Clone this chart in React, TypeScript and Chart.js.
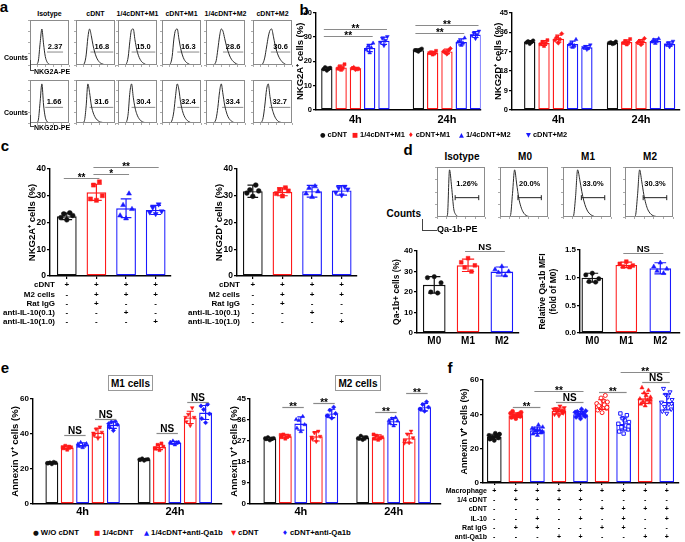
import React, { useEffect, useRef } from "react";
import { Chart, registerables } from "chart.js";
Chart.register(...registerables);

const FF = "'Liberation Sans', Arial, Helvetica, sans-serif";
const RED = "#ff1a1a";
const BLUE = "#1a1aff";
const BLACK = "#111111";
const LINEGRAY = "#8a8a8a";

// ---------------- Panel a : flow histograms ----------------
const aColumns = ["Isotype", "cDNT", "1/4cDNT+M1", "cDNT+M1", "1/4cDNT+M2", "cDNT+M2"];
const aNKG2AValues = ["2.37", "16.8", "15.0", "16.3", "28.6", "30.6"];
const aNKG2DValues = ["1.66", "31.6", "30.4", "32.4", "33.4", "32.7"];
const aNKG2ACurves = [
  [0, 0, 0, 0, 2, 14, 62, 100, 58, 24, 9, 3, 1, 0, 0, 0, 0, 0, 0, 0, 0, 0, 0, 0],
  [0, 0, 0, 0, 1, 5, 28, 76, 100, 82, 56, 36, 22, 13, 7, 4, 2, 1, 0, 0, 0, 0, 0, 0],
  [0, 0, 0, 0, 1, 4, 22, 66, 98, 100, 70, 44, 27, 16, 9, 5, 2, 1, 0, 0, 0, 0, 0, 0],
  [0, 0, 0, 0, 1, 4, 24, 72, 97, 100, 72, 46, 28, 16, 9, 5, 2, 1, 0, 0, 0, 0, 0, 0],
  [0, 0, 0, 0, 0, 2, 12, 44, 80, 100, 94, 74, 54, 38, 25, 16, 10, 6, 3, 1, 0, 0, 0, 0],
  [0, 0, 0, 0, 0, 1, 6, 22, 50, 78, 96, 100, 80, 56, 38, 25, 16, 10, 5, 2, 1, 0, 0, 0],
];
const aNKG2DCurves = [
  [0, 0, 0, 0, 1, 10, 56, 100, 46, 15, 4, 1, 0, 0, 0, 0, 0, 0, 0, 0, 0, 0, 0, 0],
  [0, 0, 0, 0, 1, 6, 44, 100, 78, 46, 28, 17, 10, 6, 3, 2, 1, 0, 0, 0, 0, 0, 0, 0],
  [0, 0, 0, 0, 0, 3, 24, 78, 100, 66, 40, 24, 14, 8, 4, 2, 1, 0, 0, 0, 0, 0, 0, 0],
  [0, 0, 0, 0, 0, 1, 8, 30, 70, 100, 84, 52, 32, 19, 11, 6, 3, 1, 0, 0, 0, 0, 0, 0],
  [0, 0, 0, 0, 0, 2, 12, 40, 80, 100, 74, 46, 28, 16, 9, 5, 2, 1, 0, 0, 0, 0, 0, 0],
  [0, 0, 0, 0, 0, 2, 14, 46, 86, 100, 68, 42, 26, 15, 8, 4, 2, 1, 0, 0, 0, 0, 0, 0],
];
const aNKG2AGates = [[10, 19.5], [8.5, 22], [8, 22], [9, 22], [10, 22], [10.5, 22]];
const aNKG2DGates = [[9, 19.5], [8, 22], [8, 22], [9, 22], [9.5, 22], [9.5, 22]];

// ---------------- Panel d : Qa-1b histograms ----------------
const dColumns = ["Isotype", "M0", "M1", "M2"];
const dValues = ["1.26%", "20.0%", "33.0%", "30.3%"];
const dCurves = [
  [0, 0, 0, 0, 0, 4, 100, 64, 18, 5, 1, 0, 0, 0, 0, 0, 0, 0, 0, 0, 0, 0, 0, 0],
  [0, 0, 0, 0, 0, 3, 50, 100, 70, 40, 22, 11, 5, 2, 1, 0, 0, 0, 0, 0, 0, 0, 0, 0],
  [0, 0, 0, 0, 0, 2, 42, 100, 80, 54, 34, 20, 11, 6, 3, 1, 0, 0, 0, 0, 0, 0, 0, 0],
  [0, 0, 0, 0, 0, 3, 46, 100, 76, 48, 28, 15, 8, 4, 2, 1, 0, 0, 0, 0, 0, 0, 0, 0],
];
const dGates = [[8.7, 20], [8.6, 19.8], [8.8, 20], [8.7, 20]];

// ---------------- Panel b ----------------
const bTimes = ["4h", "24h"];
const bSeries = ["cDNT", "1/4cDNT+M1", "cDNT+M1", "1/4cDNT+M2", "cDNT+M2"];
const bNKG2AMeans = [17.0, 17.5, 17.1, 25.5, 28.5, 24.6, 23.5, 24.1, 28.0, 31.0];
const bNKG2ASD = [0.6, 1.0, 0.4, 1.5, 1.5, 0.5, 0.6, 0.9, 1.2, 1.2];
const bNKG2APoints = [
  [16.2, 16.8, 17.3, 17.6, 16.9], [16.5, 17.0, 18.8, 17.8, 17.4], [16.6, 17.2, 16.9, 17.5, 16.8],
  [23.5, 24.8, 27.5, 26.2, 25.6], [26.5, 27.8, 30.2, 29.5, 28.6],
  [24.0, 24.6, 25.2, 24.4, 24.8], [22.8, 23.4, 24.3, 23.7, 23.2], [23.0, 24.1, 25.3, 23.8, 24.4],
  [26.6, 27.9, 29.6, 28.3, 27.6], [29.4, 30.6, 32.4, 31.6, 31.0],
];
const bNKG2AStats = [
  { from: 0, to: 3, y: 30.5, text: "**" }, { from: 0, to: 4, y: 33.5, text: "**" },
  { from: 5, to: 8, y: 31.8, text: "**" }, { from: 5, to: 9, y: 34.8, text: "**" },
];
const bNKG2DMeans = [31.5, 31.0, 33.0, 30.5, 29.0, 31.0, 31.5, 31.5, 32.0, 30.5];
const bNKG2DSD = [0.6, 1.1, 1.6, 1.4, 0.8, 0.5, 1.0, 1.1, 0.9, 1.0];
const bNKG2DPoints = [
  [30.6, 31.2, 32.1, 31.8, 31.4], [29.6, 30.4, 32.3, 31.5, 30.9], [31.0, 32.4, 35.3, 33.6, 32.7],
  [29.0, 30.2, 32.6, 30.8, 29.8], [28.0, 28.9, 30.1, 29.4, 28.6],
  [30.5, 31.0, 31.6, 31.3, 30.8], [30.3, 31.0, 32.8, 31.8, 31.4], [30.2, 31.2, 33.1, 31.8, 31.5],
  [30.8, 31.5, 33.0, 32.4, 31.9], [29.2, 30.1, 31.8, 31.0, 30.4],
];

// ---------------- Panel c ----------------
const cRowNames = ["cDNT", "M2 cells", "Rat IgG", "anti-IL-10(0.1)", "anti-IL-10(1.0)"];
const cTable = [
  ["+", "-", "-", "-", "-"],
  ["+", "+", "+", "-", "-"],
  ["+", "+", "-", "+", "-"],
  ["+", "+", "-", "-", "+"],
];
const cNKG2AMeans = [22.3, 31.3, 25.3, 24.7];
const cNKG2ASD = [1.2, 3.0, 3.5, 1.7];
const cNKG2APoints = [
  [21.0, 21.8, 22.6, 23.2, 23.6], [28.3, 28.8, 30.0, 34.0, 35.2], [21.5, 22.6, 25.0, 26.5, 30.8], [23.2, 23.8, 24.2, 25.6, 26.8],
];
const cNKG2AStats = [
  { from: 0, to: 1, y: 36.6, text: "**" }, { from: 1, to: 2, y: 38.1, text: "*" }, { from: 1, to: 3, y: 40.7, text: "**" },
];
const cNKG2DMeans = [31.7, 31.5, 31.7, 32.0];
const cNKG2DSD = [2.3, 1.5, 2.2, 1.8];
const cNKG2DPoints = [
  [29.8, 31.0, 31.8, 32.2, 34.0], [29.9, 30.8, 31.8, 32.3, 33.0], [29.5, 30.8, 31.6, 32.9, 33.5], [30.2, 31.2, 32.4, 33.0, 33.4],
];

// ---------------- Panel d bars ----------------
const dGroups = ["M0", "M1", "M2"];
const dQaMeans = [23.5, 33.0, 30.0];
const dQaSD = [4.0, 3.0, 2.2];
const dQaPoints = [[27.5, 27.0, 24.5, 20.0, 19.5], [36.5, 34.5, 33.0, 32.0, 30.0], [32.5, 31.0, 30.0, 29.5, 28.0]];
const dQaStats = [{ from: 1, to: 2, y: 40, text: "NS" }];
const dMfiMeans = [1.0, 1.23, 1.17];
const dMfiSD = [0.08, 0.05, 0.1];
const dMfiPoints = [[1.08, 1.05, 0.98, 0.93, 0.92], [1.29, 1.25, 1.22, 1.2, 1.19], [1.27, 1.2, 1.16, 1.12, 1.08]];
const dMfiStats = [{ from: 1, to: 2, y: 1.45, text: "NS" }];

// ---------------- Panel e ----------------
const eTimes = ["4h", "24h"];
const eSeries = ["W/O cDNT", "1/4cDNT", "1/4cDNT+anti-Qa1b", "cDNT", "cDNT+anti-Qa1b"];
const eM1Means = [23.5, 32.3, 33.8, 40.8, 45.2, 25.4, 32.6, 35.0, 49.5, 52.3];
const eM1SD = [0.6, 1.0, 1.2, 2.6, 2.0, 0.5, 1.5, 0.8, 3.5, 4.0];
const eM1Points = [
  [22.8, 23.2, 23.5, 23.7, 24.0, 23.4], [31.0, 31.8, 32.4, 33.3, 32.8, 32.5], [32.2, 33.0, 34.5, 35.2, 33.6, 34.3],
  [37.5, 39.2, 41.0, 42.6, 44.0, 40.5], [42.0, 43.8, 45.5, 46.8, 47.2, 45.9],
  [24.8, 25.2, 25.6, 26.0, 25.4, 25.4], [30.8, 31.6, 32.8, 33.8, 34.6, 32.0], [33.8, 34.6, 35.3, 36.0, 35.0, 35.3],
  [44.8, 47.0, 49.5, 51.2, 55.0, 49.5], [46.5, 48.8, 51.5, 54.0, 57.0, 56.0],
];
const eM1Stats = [
  { from: 1, to: 2, y: 39.4, text: "NS" }, { from: 3, to: 4, y: 48.6, text: "NS" },
  { from: 6, to: 7, y: 40.4, text: "NS" }, { from: 8, to: 9, y: 58.5, text: "NS" },
];
const eM2Means = [28.0, 29.0, 34.5, 29.0, 38.8, 28.3, 28.6, 35.5, 28.2, 41.5];
const eM2SD = [0.6, 0.8, 2.8, 2.0, 1.8, 0.8, 1.0, 1.5, 2.0, 1.6];
const eM2Points = [
  [27.3, 27.8, 28.2, 28.6, 27.9, 28.2], [28.0, 28.6, 29.2, 29.8, 28.8, 29.6], [31.0, 32.5, 34.0, 35.8, 37.5, 36.2],
  [26.8, 27.8, 29.0, 30.5, 31.2, 28.7], [36.8, 37.8, 38.8, 40.2, 41.5, 37.7],
  [27.5, 28.0, 28.6, 29.2, 28.3, 28.2], [27.5, 28.0, 28.6, 29.3, 28.4, 29.8], [33.5, 34.6, 35.6, 36.5, 37.0, 35.8],
  [26.2, 27.3, 28.4, 30.0, 31.2, 26.1], [39.8, 40.6, 41.5, 42.6, 43.8, 40.7],
];
const eM2Stats = [
  { from: 1, to: 2, y: 41.5, text: "**" }, { from: 3, to: 4, y: 43.2, text: "**" },
  { from: 6, to: 7, y: 39.5, text: "**" }, { from: 8, to: 9, y: 47.5, text: "**" },
];

// ---------------- Panel f ----------------
const fRowNames = ["Macrophage", "1/4 cDNT", "cDNT", "IL-10", "Rat IgG", "anti-Qa1b"];
const fTable = [
  ["+", "-", "-", "-", "-", "-"],
  ["+", "+", "-", "-", "+", "-"],
  ["+", "+", "-", "+", "+", "-"],
  ["+", "+", "-", "-", "-", "+"],
  ["+", "+", "-", "+", "-", "+"],
  ["+", "-", "+", "-", "+", "-"],
  ["+", "-", "+", "+", "+", "-"],
  ["+", "-", "+", "-", "-", "+"],
  ["+", "-", "+", "+", "-", "+"],
];
const fMeans = [27.0, 39.5, 30.7, 42.0, 40.1, 45.7, 34.4, 49.3, 47.2];
const fSD = [1.4, 1.3, 1.8, 1.7, 1.6, 2.8, 3.6, 2.9, 4.6];
const fPoints = [
  [24.8, 25.5, 26.2, 26.8, 27.3, 27.8, 28.5, 29.0, 26.5, 27.1, 25.9, 28.2],
  [37.5, 38.2, 38.8, 39.4, 40.0, 40.6, 41.2, 39.0, 38.5, 40.3, 41.8, 39.7],
  [27.8, 28.6, 29.5, 30.2, 31.0, 31.8, 32.6, 33.8, 30.5, 29.2, 31.4, 30.0],
  [39.2, 40.0, 40.8, 41.5, 42.2, 43.0, 43.8, 44.8, 42.5, 41.0, 43.3, 42.0],
  [37.5, 38.4, 39.2, 40.0, 40.6, 41.2, 42.0, 43.0, 39.6, 40.4, 41.6, 38.8],
  [41.0, 42.5, 43.5, 44.5, 45.5, 46.3, 47.2, 48.0, 49.5, 51.0, 45.0, 44.0],
  [28.8, 30.0, 31.2, 32.5, 33.5, 34.5, 35.5, 36.5, 37.8, 39.5, 40.5, 33.0],
  [45.0, 46.0, 46.8, 47.5, 48.3, 49.0, 50.0, 51.0, 52.5, 54.0, 55.5, 48.5],
  [40.5, 41.8, 43.0, 44.5, 45.8, 47.0, 48.5, 50.0, 51.5, 53.0, 55.0, 46.2],
];
const fStats = [
  { from: 1, to: 2, y: 44, text: "**" }, { from: 2, to: 4, y: 53.5, text: "**" }, { from: 3, to: 4, y: 47, text: "NS" },
  { from: 5, to: 6, y: 53, text: "**" }, { from: 6, to: 8, y: 64.5, text: "**" }, { from: 7, to: 8, y: 58.7, text: "NS" },
];

// ---------------- helpers ----------------
const JITTER = [0, -0.3, 0.3, -0.15, 0.15, -0.36, 0.36, 0.07, -0.07, 0.22, -0.22, 0.33];

const framePlugin = {
  id: "frame",
  afterDraw(chart: any, _a: any, o: any) {
    if (!o || !o.color) return;
    const { ctx, chartArea: c } = chart;
    ctx.save();
    ctx.strokeStyle = o.color;
    ctx.lineWidth = 1;
    ctx.strokeRect(Math.round(c.left) + 0.5, Math.round(c.top) + 0.5, Math.round(c.right - c.left) - 1, Math.round(c.bottom - c.top) - 1);
    ctx.restore();
  },
};

const gateTextPlugin = {
  id: "gateText",
  afterDraw(chart: any, _a: any, o: any) {
    if (!o || !o.text) return;
    const { ctx, scales } = chart;
    ctx.save();
    ctx.font = `bold ${o.size}px ${FF}`;
    ctx.fillStyle = "#000";
    ctx.textAlign = "center";
    ctx.textBaseline = o.baseline;
    ctx.fillText(o.text, scales.x.getPixelForValue(o.x), scales.y.getPixelForValue(o.y));
    ctx.restore();
  },
};

const errPlugin = {
  id: "errBars",
  afterDatasetsDraw(chart: any, _a: any, o: any) {
    if (!o || !o.values) return;
    const { ctx, scales } = chart;
    const meta = chart.getDatasetMeta(0);
    ctx.save();
    ctx.lineWidth = 1.2;
    o.values.forEach((v: number, i: number) => {
      const el = meta.data[i];
      if (!el) return;
      const cx = el.x;
      const hw = el.width * 0.27;
      const yt = scales.y.getPixelForValue(v + o.sds[i]);
      const yb = scales.y.getPixelForValue(v - o.sds[i]);
      ctx.strokeStyle = o.colors[i];
      ctx.beginPath();
      ctx.moveTo(cx, yt); ctx.lineTo(cx, yb);
      ctx.moveTo(cx - hw, yt); ctx.lineTo(cx + hw, yt);
      ctx.moveTo(cx - hw, yb); ctx.lineTo(cx + hw, yb);
      ctx.stroke();
    });
    ctx.restore();
  },
};

// brackets: "from"/"to" are bar indices
const bracketPlugin = {
  id: "brackets",
  afterDatasetsDraw(chart: any, _a: any, o: any) {
    if (!o || !o.items) return;
    const { ctx, scales } = chart;
    const meta = chart.getDatasetMeta(0);
    ctx.save();
    o.items.forEach((b: any) => {
      const x1 = meta.data[b.from].x;
      const x2 = meta.data[b.to].x;
      const yy = Math.round(scales.y.getPixelForValue(b.y)) + 0.5;
      ctx.strokeStyle = LINEGRAY;
      ctx.lineWidth = 1.2;
      ctx.beginPath(); ctx.moveTo(x1 - 3, yy); ctx.lineTo(x2 + 3, yy); ctx.stroke();
      ctx.fillStyle = "#000";
      ctx.font = `bold ${o.size}px ${FF}`;
      ctx.textAlign = "center";
      ctx.textBaseline = "alphabetic";
      const star = b.text.indexOf("*") >= 0;
      ctx.fillText(b.text, (x1 + x2) / 2, yy - 1.5 + (star ? o.size * 0.42 : 0));
    });
    ctx.restore();
  },
};

const rowNamesPlugin = {
  id: "rowNames",
  afterDraw(chart: any, _a: any, o: any) {
    if (!o || !o.names) return;
    const { ctx, scales } = chart;
    const xs = scales.x;
    const lh = o.size * o.lh;
    const y0 = xs.top + o.tickLen + o.pad + lh / 2;
    ctx.save();
    ctx.font = `bold ${o.size}px ${FF}`;
    ctx.fillStyle = "#000";
    ctx.textAlign = "right";
    ctx.textBaseline = "middle";
    o.names.forEach((n: string, i: number) => ctx.fillText(n, o.right, y0 + i * lh));
    ctx.restore();
  },
};

// vertical axis title drawn at a fixed x, centred on the y axis
const yTitlePlugin = {
  id: "yTitle",
  afterDraw(chart: any, _a: any, o: any) {
    if (!o || !o.text) return;
    const { ctx, chartArea } = chart;
    const lines = Array.isArray(o.text) ? o.text : [o.text];
    const cy = (chartArea.top + chartArea.bottom) / 2;
    ctx.save();
    ctx.translate(o.x, cy);
    ctx.rotate(-Math.PI / 2);
    ctx.font = `bold ${o.size}px ${FF}`;
    ctx.fillStyle = "#000";
    ctx.textAlign = "center";
    ctx.textBaseline = "middle";
    lines.forEach((l: string, i: number) => ctx.fillText(l, 0, i * o.size * 1.2));
    ctx.restore();
  },
};

function markerStyle(m: string) {
  if (m === "square") return "rect";
  if (m === "diamond") return "rectRot";
  if (m === "up" || m === "down") return "triangle";
  return "circle";
}

// ---------------- Histogram ----------------
function Hist(p: any) {
  const ref = useRef<HTMLCanvasElement>(null);
  const left = p.x - 3;
  const top = p.y - 1;
  const width = p.w + 4;
  const height = p.h + 4;
  useEffect(() => {
    const n = p.curve.length;
    const chart = new Chart(ref.current as HTMLCanvasElement, {
      type: "line",
      data: {
        datasets: [
          {
            data: p.curve.map((v: number, i: number) => ({ x: i, y: v })),
            borderColor: "#2a2a2a", borderWidth: 1, pointRadius: 0, cubicInterpolationMode: "monotone", fill: false,
          },
          {
            data: [{ x: p.gate[0], y: p.gateY }, { x: p.gate[1], y: p.gateY }],
            borderColor: p.gateColor, borderWidth: 1, pointRadius: p.gateTicks ? 2.5 : 0,
            pointStyle: "line", pointRotation: 90, pointBorderColor: p.gateColor, pointBorderWidth: 1,
          },
        ],
      } as any,
      options: {
        animation: false, responsive: false, events: [],
        layout: { padding: { top: 1, right: 1, left: 0, bottom: 0 } },
        plugins: {
          legend: { display: false }, tooltip: { enabled: false },
          frame: { color: "#8c8c8c" },
          gateText: { text: p.label, x: p.labelX, y: p.labelY, size: p.labelSize, baseline: p.labelBaseline },
        } as any,
        scales: {
          x: {
            type: "linear", min: 0, max: n - 1, ticks: { display: false, stepSize: 4.6 },
            grid: { drawOnChartArea: false, drawTicks: true, tickLength: 2, color: "#aaa" }, border: { display: false },
            afterFit: (s: any) => { s.height = 3; },
          },
          y: {
            type: "linear", min: 0, max: p.yMax, ticks: { display: false, stepSize: p.yMax / 4 },
            grid: { drawOnChartArea: false, drawTicks: true, tickLength: 2, color: "#aaa" }, border: { display: false },
            afterFit: (s: any) => { s.width = 3; },
          },
        } as any,
      },
      plugins: [framePlugin, gateTextPlugin],
    });
    return () => chart.destroy();
  }, []);
  return <canvas ref={ref} width={width} height={height} style={{ position: "absolute", left, top, width, height }} />;
}

// ---------------- Bar panel ----------------
function BarPanel({ g, d }: any) {
  const ref = useRef<HTMLCanvasElement>(null);
  const left = Math.floor(g.axisX - g.leftSpace);
  const top = Math.floor(g.yTopPx - g.padTop);
  const leftSpace = g.axisX - left;
  const padTop = g.yTopPx - top;
  const width = Math.round(g.axisEndX - left + g.padRight);
  const padRight = width - (g.axisEndX - left);
  const height = Math.round(g.y0Px - top + g.bottomSpace);
  const bottomSpace = height - (g.y0Px - top);
  useEffect(() => {
    // slot positions: bars in groups, with a layout gap (in slots) between groups
    const perGroup = g.perGroup || d.values.length;
    const slots = d.values.map((_: number, i: number) => (i % perGroup) + Math.floor(i / perGroup) * (perGroup + (g.groupGap || 0)));
    const groupCenters = d.xTickLabels.map((_: any, k: number) =>
      g.perGroup ? k * (perGroup + (g.groupGap || 0)) + (perGroup - 1) / 2 : slots[k]);
    const xMin = (g.axisX - g.slot0Px) / g.slotPx;
    const xMax = (g.axisEndX - g.slot0Px) / g.slotPx;
    const frac = g.barW / g.slotPx;
    const datasets: any[] = [
      {
        type: "bar",
        data: slots.map((s: number, i: number) => ({ x: s, y: d.values[i] })),
        backgroundColor: "#ffffff",
        borderColor: d.colors,
        borderWidth: 1.4,
        borderSkipped: false,
        barPercentage: frac,
        categoryPercentage: 1,
        order: 5,
      },
    ];
    d.points.forEach((pts: number[], i: number) => {
      const open = d.open ? d.open[i] : false;
      datasets.push({
        type: "scatter",
        data: pts.map((v: number, j: number) => ({ x: slots[i] + JITTER[j % JITTER.length] * frac, y: v })),
        pointStyle: markerStyle(d.markers[i]),
        pointRotation: d.markers[i] === "down" ? 180 : 0,
        pointRadius: d.markers[i] === "circle" ? g.ptR : g.ptR * 1.2,
        pointBackgroundColor: open ? "#ffffff" : d.colors[i],
        pointBorderColor: d.colors[i],
        pointBorderWidth: open ? 1 : 0.5,
        clip: false,
        order: 1,
      });
    });
    const chart = new Chart(ref.current as HTMLCanvasElement, {
      type: "bar",
      data: { datasets } as any,
      options: {
        animation: false, responsive: false, maintainAspectRatio: false, events: [],
        layout: { padding: { top: padTop, right: padRight, left: 0, bottom: 0 } },
        plugins: {
          legend: { display: false }, tooltip: { enabled: false },
          errBars: { values: d.values, sds: d.sds, colors: d.colors },
          brackets: { items: d.brackets, size: g.bracketSize || 9 },
          yTitle: { text: d.yTitle, x: g.titleX - left, size: g.titleSize },
          rowNames: d.rowNames
            ? { names: d.rowNames, size: g.xLabelSize, lh: g.xLineHeight, tickLen: g.xTickLen, pad: g.xTickPad, right: g.rowNameRight - left }
            : {},
        } as any,
        scales: {
          x: {
            type: "linear", min: xMin, max: xMax, offset: false,
            afterBuildTicks: (s: any) => { s.ticks = groupCenters.map((v: number) => ({ value: v })); },
            ticks: {
              autoSkip: false, maxRotation: 0, minRotation: 0, padding: g.xTickPad, color: "#000",
              font: { family: FF, size: g.xLabelSize, weight: "bold", lineHeight: g.xLineHeight || 1.2 },
              callback: (_v: any, i: number) => d.xTickLabels[i],
            },
            grid: { offset: false, drawOnChartArea: false, drawTicks: g.xTickLen > 0, tickLength: g.xTickLen, color: "#000", lineWidth: 1.2 },
            border: { display: true, color: "#000", width: 1.4 },
            afterFit: (s: any) => { s.height = bottomSpace; },
          },
          y: {
            type: "linear", min: 0, max: d.yMax,
            ticks: {
              stepSize: d.yStep, padding: 1, color: "#000",
              font: { family: FF, size: g.tickSize, weight: "bold" },
              callback: (v: any) => (d.yDecimals ? Number(v).toFixed(d.yDecimals) : String(Math.round(v))),
            },
            grid: { drawOnChartArea: false, drawTicks: true, tickLength: 3, color: "#000", lineWidth: 1.2 },
            border: { display: true, color: "#000", width: 1.4 },
            title: { display: false },
            afterFit: (s: any) => { s.width = leftSpace; },
          },
        } as any,
      },
      plugins: [errPlugin, bracketPlugin, rowNamesPlugin, yTitlePlugin],
    });
    return () => chart.destroy();
  }, []);
  return <canvas ref={ref} width={width} height={height} style={{ position: "absolute", left, top, width, height }} />;
}

function T({ x, y, s, children, anchor = "middle", w = 700, color = "#000" }: any) {
  const tx = anchor === "start" ? "0" : anchor === "end" ? "-100%" : "-50%";
  return (
    <div style={{ position: "absolute", left: x, top: y, transform: `translate(${tx},-50%)`, font: `${w} ${s}px ${FF}`, whiteSpace: "nowrap", color, lineHeight: 1 }}>
      {children}
    </div>
  );
}

function LBracket({ x, y1, y2, x2 }: any) {
  return <div style={{ position: "absolute", left: x, top: y1, width: x2 - x, height: y2 - y1, borderLeft: "1px solid #444", borderBottom: "1px solid #444" }} />;
}

const MARK: any = { circle: "\u25CF", square: "\u25A0", diamond: "\u2666", up: "\u25B2", down: "\u25BC" };

function Legend({ items, y, size }: any) {
  return (
    <>
      {items.map((it: any, i: number) => (
        <div key={i} style={{ position: "absolute", left: it.x, top: y, transform: "translateY(-50%)", whiteSpace: "nowrap", font: `700 ${size}px ${FF}`, lineHeight: 1 }}>
          <span style={{ color: it.color, fontSize: size * 0.85, fontFamily: "'DejaVu Sans', sans-serif" }}>{MARK[it.marker]}</span>
          <span style={{ marginLeft: 2 }}>{it.label}</span>
        </div>
      ))}
    </>
  );
}

// ---------------- layout ----------------
const seriesColors5 = [BLACK, RED, RED, BLUE, BLUE];
const bMarkers = ["circle", "square", "diamond", "up", "down"];
const eColors = [BLACK, RED, BLUE, RED, BLUE];
const eMarkers = ["circle", "square", "up", "down", "diamond"];
const rep2 = (arr: any[]) => [...arr, ...arr];

export default function App() {
  const aBoxX = [30, 76, 118, 162, 206, 253];
  const dBoxX = [435, 498, 561, 623];

  const bGeomBase = { yTopPx: 12.7, y0Px: 110, slotPx: 14.5, barW: 11.5, perGroup: 5, padTop: 6, bottomSpace: 18, padRight: 2, titleSize: 9.5, tickSize: 7.5, xLabelSize: 11, xTickLen: 0, xTickPad: 3, ptR: 1.8, bracketSize: 10 };
  const b1 = { ...bGeomBase, axisX: 316, axisEndX: 483, slot0Px: 327, groupGap: 1.41, leftSpace: 20, titleX: 300 };
  const b2 = { ...bGeomBase, axisX: 512, axisEndX: 682, slot0Px: 530, groupGap: 0.79, leftSpace: 22, titleX: 498 };
  const bData = (means: number[], sds: number[], pts: number[][], yMax: number, yStep: number, title: string, brackets: any[]) => ({
    values: means, sds, points: pts, colors: rep2(seriesColors5), markers: rep2(bMarkers),
    xTickLabels: bTimes, brackets, yTitle: title, yMax, yStep,
  });

  const cGeomBase = { yTopPx: 169, y0Px: 276, slotPx: 30, barW: 20, padTop: 14, bottomSpace: 55, padRight: 3, titleSize: 9.5, tickSize: 8.5, xLabelSize: 8, xLineHeight: 1.16, xTickLen: 3, xTickPad: 1.5, ptR: 2.4, bracketSize: 10 };
  const c1 = { ...cGeomBase, axisX: 50, axisEndX: 172, slot0Px: 67, leftSpace: 50, titleX: 32, rowNameRight: 55 };
  const c2 = { ...cGeomBase, axisX: 237, axisEndX: 358, slot0Px: 253, leftSpace: 52, titleX: 219, rowNameRight: 240 };
  const cColors = [BLACK, RED, BLUE, BLUE];
  const cMarkers = ["circle", "square", "up", "down"];
  const cData = (means: number[], sds: number[], pts: number[][], title: string, brackets: any[]) => ({
    values: means, sds, points: pts, colors: cColors, markers: cMarkers,
    xTickLabels: cTable, brackets, yTitle: title, yMax: 40, yStep: 10, rowNames: cRowNames,
  });

  const dGeomBase = { y0Px: 333, padTop: 14, bottomSpace: 16, padRight: 3, titleSize: 8.5, tickSize: 8, xLabelSize: 10, xTickLen: 0, xTickPad: 2.5, ptR: 2.2, bracketSize: 9.5 };
  const d1 = { ...dGeomBase, yTopPx: 251, axisX: 417, axisEndX: 520, slot0Px: 434.5, slotPx: 34.3, barW: 23, leftSpace: 26, titleX: 397 };
  const d2 = { ...dGeomBase, yTopPx: 250, axisX: 580, axisEndX: 681, slot0Px: 592.5, slotPx: 34.5, barW: 22, leftSpace: 43, titleX: 543 };
  const dColors = [BLACK, RED, BLUE];
  const dMarkers = ["circle", "square", "up"];

  const eGeomBase = { yTopPx: 399, y0Px: 504, slotPx: 15.5, barW: 13, perGroup: 5, groupGap: 1, padRight: 3, bottomSpace: 18, titleSize: 9.5, tickSize: 8, xLabelSize: 11, xTickLen: 0, xTickPad: 1, ptR: 1.8, bracketSize: 10 };
  const e1 = { ...eGeomBase, axisX: 33, axisEndX: 223, slot0Px: 52, leftSpace: 33, padTop: 18, titleX: 15 };
  const e2 = { ...eGeomBase, axisX: 250, axisEndX: 442, slot0Px: 270, slotPx: 15.6, leftSpace: 24, padTop: 22, titleX: 234 };
  const eData = (means: number[], sds: number[], pts: number[][], yMax: number, yStep: number, brackets: any[]) => ({
    values: means, sds, points: pts, colors: rep2(eColors), markers: rep2(eMarkers),
    xTickLabels: eTimes, brackets, yTitle: "Annexin V\u207A cells (%)", yMax, yStep,
  });

  const fGeom = { yTopPx: 380, y0Px: 483, axisX: 483, axisEndX: 683, slot0Px: 494.5, slotPx: 22, barW: 15, leftSpace: 40, padTop: 16, bottomSpace: 59, padRight: 1, titleX: 465, titleSize: 9, tickSize: 8, xLabelSize: 7, xLineHeight: 1.33, xTickLen: 2, xTickPad: 1, ptR: 2, rowNameRight: 487, bracketSize: 10 };
  const fColors = [BLACK, RED, BLUE, RED, BLUE, RED, BLUE, RED, BLUE];
  const fMarkers = ["circle", "circle", "up", "down", "diamond", "circle", "square", "up", "down"];
  const fOpen = [false, false, false, false, false, true, true, false, true];

  return (
    <div style={{ position: "absolute", left: 0, top: 0, width: 685, height: 542, background: "#fff", overflow: "hidden" }}>
      {/* panel letters */}
      <T x={4} y={6} s={15}>a</T>
      <T x={304} y={9} s={15}>b</T>
      <T x={5} y={145} s={15}>c</T>
      <T x={408} y={149} s={15}>d</T>
      <T x={5} y={367} s={15}>e</T>
      <T x={450} y={367} s={15}>f</T>

      {/* panel a */}
      {aColumns.map((c, i) => (
        <T key={"ah" + i} x={aBoxX[i] + 19.5} y={13} s={7}>{c}</T>
      ))}
      {aColumns.map((_, i) => (
        <Hist key={"aA" + i} x={aBoxX[i]} y={20} w={39} h={45} curve={aNKG2ACurves[i]} yMax={125} gate={aNKG2AGates[i]} gateY={36}
          gateColor="#8a8a8a" gateTicks={false} label={aNKG2AValues[i]} labelX={(aNKG2AGates[i][0] + aNKG2AGates[i][1]) / 2} labelY={40} labelSize={7.5} labelBaseline="bottom" />
      ))}
      {aColumns.map((_, i) => (
        <Hist key={"aD" + i} x={aBoxX[i]} y={80} w={39} h={43} curve={aNKG2DCurves[i]} yMax={110} gateY={40} gate={aNKG2DGates[i]}
          gateColor="#8a8a8a" gateTicks={false} label={aNKG2DValues[i]} labelX={(aNKG2DGates[i][0] + aNKG2DGates[i][1]) / 2} labelY={44} labelSize={7.5} labelBaseline="bottom" />
      ))}
      <T x={28} y={57} s={7} anchor="end">Counts</T>
      <LBracket x={29.5} y1={60} y2={70} x2={33} />
      <T x={34} y={71} s={7} anchor="start">NKG2A-PE</T>
      <T x={28} y={112} s={7} anchor="end">Counts</T>
      <LBracket x={29.5} y1={115} y2={126} x2={33} />
      <T x={34} y={127} s={7} anchor="start">NKG2D-PE</T>

      {/* panel b */}
      <BarPanel g={b1} d={bData(bNKG2AMeans, bNKG2ASD, bNKG2APoints, 40, 10, "NKG2A\u207A cells (%)", bNKG2AStats)} />
      <BarPanel g={b2} d={bData(bNKG2DMeans, bNKG2DSD, bNKG2DPoints, 45, 9, "NKG2D\u207A cells (%)", [])} />
      <Legend y={135} size={7.5} items={[
        { x: 320, marker: "circle", color: BLACK, label: bSeries[0] },
        { x: 352, marker: "square", color: RED, label: bSeries[1] },
        { x: 408, marker: "diamond", color: RED, label: bSeries[2] },
        { x: 459, marker: "up", color: BLUE, label: bSeries[3] },
        { x: 526, marker: "down", color: BLUE, label: bSeries[4] },
      ]} />

      {/* panel c */}
      <BarPanel g={c1} d={cData(cNKG2AMeans, cNKG2ASD, cNKG2APoints, "NKG2A\u207A cells (%)", cNKG2AStats)} />
      <BarPanel g={c2} d={cData(cNKG2DMeans, cNKG2DSD, cNKG2DPoints, "NKG2D\u207A cells (%)", [])} />

      {/* panel d */}
      {dColumns.map((c, i) => (
        <T key={"dh" + i} x={dBoxX[i] + 27} y={157} s={10}>{c}</T>
      ))}
      {dColumns.map((_, i) => (
        <Hist key={"dH" + i} x={dBoxX[i]} y={163} w={54} h={56} curve={dCurves[i]} yMax={106} gate={dGates[i]} gateY={41}
          gateColor="#222" gateTicks={true} label={dValues[i]} labelX={(dGates[i][0] + dGates[i][1]) / 2} labelY={71} labelSize={7.5} labelBaseline="middle" />
      ))}
      <T x={421} y={214} s={10} anchor="end">Counts</T>
      <LBracket x={421.5} y1={219} y2={229.5} x2={436} />
      <T x={437} y={229} s={9} anchor="start">Qa-1b-PE</T>
      <BarPanel g={d1} d={{ values: dQaMeans, sds: dQaSD, points: dQaPoints, colors: dColors, markers: dMarkers,
        xTickLabels: dGroups, brackets: dQaStats, yTitle: "Qa-1b+ cells (%)", yMax: 40, yStep: 10 }} />
      <BarPanel g={d2} d={{ values: dMfiMeans, sds: dMfiSD, points: dMfiPoints, colors: dColors, markers: dMarkers,
        xTickLabels: dGroups, brackets: dMfiStats, yTitle: ["Relative Qa-1b MFI", "(fold of M0)"], yMax: 1.5, yStep: 0.5, yDecimals: 1 }} />

      {/* panel e */}
      <div style={{ position: "absolute", left: 108, top: 375, width: 45, height: 16, border: "1px solid #999", boxSizing: "border-box" }} />
      <T x={130.5} y={383.5} s={10}>M1 cells</T>
      <div style={{ position: "absolute", left: 335, top: 375, width: 46, height: 16, border: "1px solid #999", boxSizing: "border-box" }} />
      <T x={358} y={383.5} s={10}>M2 cells</T>
      <BarPanel g={e1} d={eData(eM1Means, eM1SD, eM1Points, 60, 20, eM1Stats)} />
      <BarPanel g={e2} d={eData(eM2Means, eM2SD, eM2Points, 45, 9, eM2Stats)} />
      <Legend y={533} size={7.8} items={[
        { x: 33, marker: "circle", color: BLACK, label: eSeries[0] },
        { x: 94, marker: "square", color: RED, label: eSeries[1] },
        { x: 144, marker: "up", color: BLUE, label: eSeries[2] },
        { x: 231, marker: "down", color: RED, label: eSeries[3] },
        { x: 282, marker: "diamond", color: BLUE, label: eSeries[4] },
      ]} />

      {/* panel f */}
      <BarPanel g={fGeom} d={{ values: fMeans, sds: fSD, points: fPoints, colors: fColors, markers: fMarkers, open: fOpen,
        xTickLabels: fTable, brackets: fStats, yTitle: "Annexin V\u207A cells (%)", yMax: 60, yStep: 20, rowNames: fRowNames }} />
    </div>
  );
}
